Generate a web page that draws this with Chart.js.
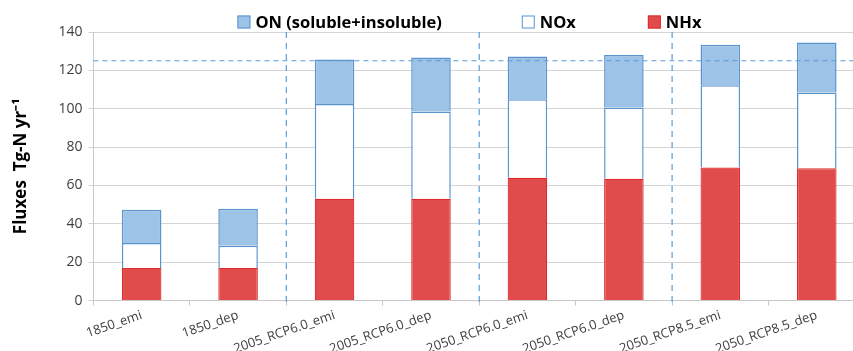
<!DOCTYPE html>
<html>
<head>
<meta charset="utf-8">
<script src="https://cdn.jsdelivr.net/npm/chart.js@4/dist/chart.umd.min.js"></script>
<style>
html,body{margin:0;padding:0;background:#fff;overflow:hidden;}
#wrap{position:relative;width:853px;height:351px;overflow:hidden;}
#box{position:absolute;left:0;top:0;width:865px;height:359px;}
</style>
</head>
<body>
<div id="wrap"><div id="box"><canvas id="c"></canvas></div></div>
<script>
const categories = ["1850_emi","1850_dep","2005_RCP6.0_emi","2005_RCP6.0_dep","2050_RCP6.0_emi","2050_RCP6.0_dep","2050_RCP8.5_emi","2050_RCP8.5_dep"];
const nhx = [17, 17, 53, 53, 64, 63.5, 69.3, 69];
const nox = [13, 11.5, 49.4, 45.6, 41, 37.2, 43, 39.5];
const on  = [17.3, 19.3, 23.2, 28.1, 22.2, 27.3, 21, 26];
const yTicks = [0,20,40,60,80,100,120,140];
const refLine = 125;
const separators = [1.5, 3.5, 5.5];

const dashPlugin = {
  id: 'dash',
  afterDatasetsDraw(chart) {
    const {ctx, chartArea, scales:{x,y}} = chart;
    ctx.save();
    ctx.strokeStyle = '#5b9bd5';
    ctx.lineWidth = 1.2;
    ctx.setLineDash([5,4]);
    const yy = y.getPixelForValue(refLine);
    ctx.beginPath(); ctx.moveTo(chartArea.left, yy); ctx.lineTo(chartArea.right, yy); ctx.stroke();
    ctx.setLineDash([6,5]);
    separators.forEach(s => {
      const xx = (x.getPixelForValue(Math.floor(s)) + x.getPixelForValue(Math.ceil(s)))/2;
      ctx.beginPath(); ctx.moveTo(xx, chartArea.top); ctx.lineTo(xx, chartArea.bottom + 3); ctx.stroke();
    });
    ctx.restore();
  }
};

const legendPlugin = {
  id: 'customLegend',
  afterDraw(chart) {
    const {ctx, chartArea} = chart;
    const ds = chart.data.datasets.slice().reverse();
    ctx.save();
    ctx.font = 'bold 16.5px "Open Sans"';
    ctx.textBaseline = 'middle';
    ctx.textAlign = 'left';
    const box = 13, gapText = 5, gaps = [80, 72];
    let x = chartArea.left + 144;
    const yc = 22;
    ds.forEach((d, i) => {
      ctx.fillStyle = d.backgroundColor;
      ctx.fillRect(x, yc - box/2, box, box);
      ctx.strokeStyle = d.borderColor;
      ctx.lineWidth = 1;
      ctx.strokeRect(x + 0.5, yc - box/2 + 0.5, box - 1, box - 1);
      ctx.fillStyle = '#000';
      ctx.fillText(d.label, x + box + gapText, yc + 1);
      x += box + gapText + ctx.measureText(d.label).width + (gaps[i] || 0);
    });
    ctx.restore();
  }
};

new Chart(document.getElementById('c'), {
  type: 'bar',
  data: {
    labels: categories,
    datasets: [
      {label: 'NHx', data: nhx, backgroundColor: '#e04b4b', borderColor: '#e02a2a', borderWidth: 1.2},
      {label: 'NOx', data: nox, backgroundColor: '#ffffff', borderColor: '#5b93cf', borderWidth: 1.5},
      {label: 'ON (soluble+insoluble)', data: on, backgroundColor: '#9dc3e6', borderColor: '#5b93cf', borderWidth: 1.5}
    ]
  },
  options: {
    responsive: true,
    maintainAspectRatio: false,
    animation: false,
    layout: {padding: {left: 11, right: 0, top: 32, bottom: 0}},
    datasets: {bar: {categoryPercentage: 1, barPercentage: 0.41}},
    plugins: {
      tooltip: {enabled: false},
      legend: {display: false}
    },
    scales: {
      x: {
        stacked: true,
        grid: {offset: true, drawOnChartArea: false, drawTicks: true, tickLength: 5, color: '#c8c8c8'},
        border: {color: '#c8c8c8'},
        ticks: {color: '#404040', font: {family: 'Open Sans', size: 13}, maxRotation: 19, minRotation: 19, padding: 2, autoSkip: false}
      },
      y: {
        stacked: true,
        min: 0, max: 140,
        afterBuildTicks(axis) { axis.ticks = yTicks.map(v => ({value: v})); },
        grid: {color: '#d4d4d4', tickLength: 5},
        border: {color: '#c8c8c8'},
        ticks: {color: '#404040', font: {family: 'Open Sans', size: 14}, padding: 6},
        title: {display: true, text: 'Fluxes  Tg-N yr⁻¹', color: '#000', font: {family: 'Open Sans', size: 17, weight: 'bold'}, padding: {top: 0, bottom: 21}}
      }
    }
  },
  plugins: [dashPlugin, legendPlugin]
});
</script>
</body>
</html>
